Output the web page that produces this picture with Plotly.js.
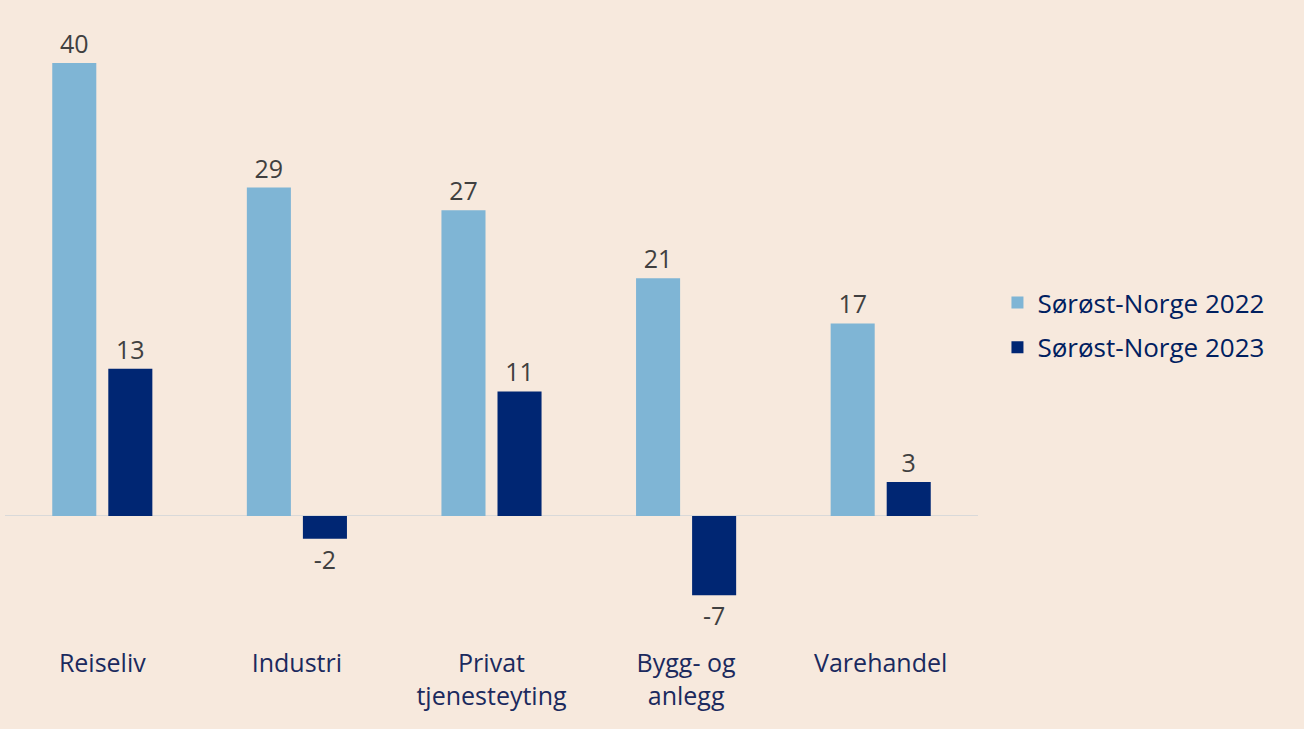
<!DOCTYPE html>
<html>
<head>
<meta charset="utf-8">
<script src="https://cdn.plot.ly/plotly-3.0.1.min.js"></script>
<style>
  html, body { margin: 0; padding: 0; background: #F7E9DD; }
  #chart { width: 1304px; height: 729px; }
</style>
</head>
<body>
<div id="chart"></div>
<script>
const categories = ["Reiseliv", "Industri", "Privat tjenesteyting", "Bygg- og anlegg", "Varehandel"];
const tickLabels = ["Reiseliv", "Industri", "Privat<br>tjenesteyting", "Bygg- og<br>anlegg", "Varehandel"];
const series2022Name = "Sørøst-Norge 2022";
const series2023Name = "Sørøst-Norge 2023";
const values2022 = [40, 29, 27, 21, 17];
const values2023 = [13, -2, 11, -7, 3];

const font = "Open Sans, Lato, sans-serif";

const traces = [
  {
    type: "bar", name: series2022Name, legendgroup: "g2022", x: categories, y: values2022,
    marker: { color: "#7FB5D5" },
    text: values2022.map(String), textposition: "outside", cliponaxis: false,
    textfont: { family: font, size: 25, color: "#404040" },
    hoverinfo: "skip"
  },
  {
    type: "bar", name: series2023Name, legendgroup: "g2023", x: categories, y: values2023,
    marker: { color: "#002673" },
    text: values2023.map(String), textposition: "outside", cliponaxis: false,
    textfont: { family: font, size: 25, color: "#404040" },
    hoverinfo: "skip"
  }
];

const layout = {
  width: 1304, height: 729,
  paper_bgcolor: "#F7E9DD", plot_bgcolor: "#F7E9DD",
  margin: { l: 5, r: 326, t: 10, b: 89 },
  barmode: "group", bargap: 0.424, bargroupgap: 0.214,
  showlegend: true,
  legend: {
    x: 1.02, xanchor: "left", y: 0.5, yanchor: "middle",
    font: { family: font, size: 26, color: "#002060" },
    bgcolor: "rgba(0,0,0,0)", tracegroupgap: 8, itemwidth: 30
  },
  xaxis: {
    type: "category", tickmode: "array", tickvals: categories, ticktext: tickLabels,
    showgrid: false, showline: false, ticks: "", ticklabelstandoff: 6,
    tickfont: { family: font, size: 25, color: "#1B2A5E" }
  },
  yaxis: {
    range: [-10.95, 44.68], showgrid: false, showticklabels: false, ticks: "",
    zeroline: true, zerolinecolor: "#D9D9D9", zerolinewidth: 1, showline: false
  },
  font: { family: font }
};

Plotly.newPlot("chart", traces, layout, { displayModeBar: false, staticPlot: true });
</script>
</body>
</html>
